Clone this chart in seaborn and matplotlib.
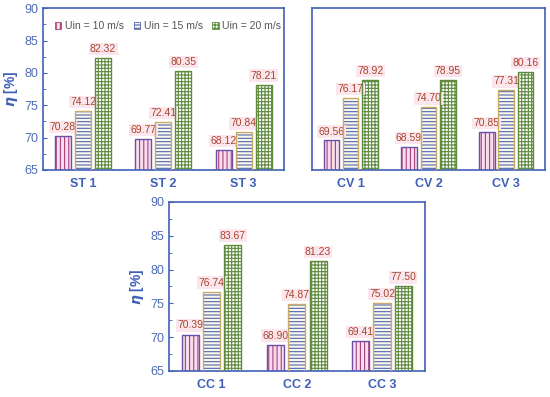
import pandas as pd
import numpy as np
import matplotlib
matplotlib.use("Agg")
import matplotlib.pyplot as plt
from matplotlib.patches import Rectangle
import seaborn as sns

# data
speeds = ["Uin = 10 m/s", "Uin = 15 m/s", "Uin = 20 m/s"]
st_cases = ["ST 1", "ST 2", "ST 3"]
st_10 = [70.28, 69.77, 68.12]
st_15 = [74.12, 72.41, 70.84]
st_20 = [82.32, 80.35, 78.21]
cv_cases = ["CV 1", "CV 2", "CV 3"]
cv_10 = [69.56, 68.59, 70.85]
cv_15 = [76.17, 74.70, 77.31]
cv_20 = [78.92, 78.95, 80.16]
cc_cases = ["CC 1", "CC 2", "CC 3"]
cc_10 = [70.39, 68.90, 69.41]
cc_15 = [76.74, 74.87, 75.02]
cc_20 = [83.67, 81.23, 77.50]

sns.set_style("white")
plt.rcParams["font.family"] = ["Liberation Sans", "DejaVu Sans"]
plt.rcParams["hatch.linewidth"] = 0.8

blue = "#3F5FB8"
tick_col = "#4E6CB5"
lab_col = "#A8452C"
styles = [
    dict(hatch="||||", hc="#A8407A", edge="#6A50A8", face="#F8DDEE"),
    dict(hatch="-----", hc="#4F67B0", edge="#C9AA66", face="#FBF6EA"),
    dict(hatch="+++++", hc="#5E8A3E", edge="#5E8A3E", face="#FFFFFF"),
]


def make_df(cases, v10, v15, v20):
    rows = []
    for vals, sp in zip([v10, v15, v20], speeds):
        for c, v in zip(cases, vals):
            rows.append({"case": c, "speed": sp, "eta": v})
    return pd.DataFrame(rows)


def draw(ax, df, ylabels=True, legend=False):
    sns.barplot(data=df, x="case", y="eta", hue="speed", ax=ax,
                width=0.75, gap=0.2, legend=False, saturation=1)
    for cont, st in zip(ax.containers, styles):
        for p in cont.patches:
            p.set_hatch(st["hatch"])
            p.set_edgecolor(st["hc"])
            p.set_facecolor(st["face"])
            p.set_linewidth(0.6)
            ax.add_patch(Rectangle(p.get_xy(), p.get_width(), p.get_height(),
                                   fill=False, ec=st["edge"], lw=1.0, zorder=3))
        for p, v in zip(cont.patches, cont.datavalues):
            ax.text(p.get_x() + p.get_width() / 2, v + 0.6, f"{v:.2f}",
                    ha="center", va="bottom", fontsize=7.5, color=lab_col,
                    bbox=dict(boxstyle="square,pad=0.12", fc="#FCE6EE", ec="none"))
    ax.set_ylim(65, 90)
    ax.set_xlim(-0.5, 2.5)
    ax.set_yticks(np.arange(65, 91, 5))
    ax.set_yticks(np.arange(67.5, 90, 5), minor=True)
    for s in ax.spines.values():
        s.set_color(blue)
        s.set_linewidth(1.2)
    ax.tick_params(axis="x", length=0, labelsize=9, labelcolor=blue, pad=6)
    for t in ax.get_xticklabels():
        t.set_fontweight("bold")
    ax.set_xlabel("")
    if ylabels:
        ax.tick_params(axis="y", which="both", direction="in", color=blue,
                       labelsize=9, labelcolor=tick_col, left=True)
        ax.tick_params(axis="y", which="major", length=3)
        ax.tick_params(axis="y", which="minor", length=2)
        ax.set_ylabel(r"$\boldsymbol{\eta}$ [%]", fontsize=10, color=blue,
                      fontweight="bold", labelpad=3)
    else:
        ax.set_yticklabels([])
        ax.tick_params(axis="y", which="both", left=False)
        ax.set_ylabel("")
    if legend:
        ax.legend(handles=ax.containers, labels=speeds, ncol=3, frameon=False,
                  loc="upper center", bbox_to_anchor=(0.52, 0.98), fontsize=7.6,
                  handlelength=0.6, handleheight=0.6, handletextpad=0.35,
                  columnspacing=0.9, labelcolor="#555555")


fig = plt.figure(figsize=(5.5, 3.97), dpi=100)
ax1 = fig.add_axes([0.078, 0.572, 0.438, 0.407])
ax2 = fig.add_axes([0.567, 0.572, 0.424, 0.407])
ax3 = fig.add_axes([0.307, 0.0655, 0.465, 0.426])

draw(ax1, make_df(st_cases, st_10, st_15, st_20), legend=True)
draw(ax2, make_df(cv_cases, cv_10, cv_15, cv_20), ylabels=False)
draw(ax3, make_df(cc_cases, cc_10, cc_15, cc_20))

fig.savefig("out.png", dpi=100)
plt.close()
